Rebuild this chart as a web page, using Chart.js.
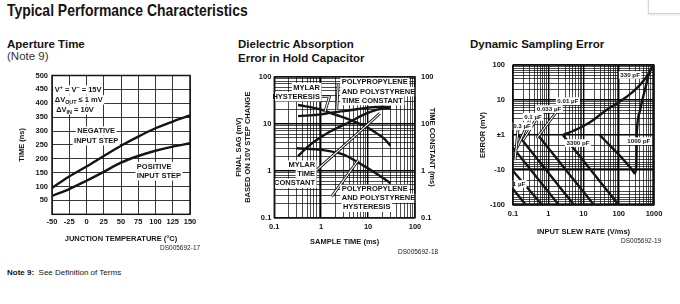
<!DOCTYPE html>
<html>
<head>
<meta charset="utf-8">
<script src="https://cdn.jsdelivr.net/npm/chart.js@4.4.1/dist/chart.umd.min.js"></script>
<style>
  body { margin: 0; width: 680px; height: 304px; position: relative; overflow: hidden; background: #fff;
         font-family: "Liberation Sans", Arial, Helvetica, sans-serif; color: #141414; }
  .txt { position: absolute; white-space: nowrap; line-height: 1.15; }
  .h2 { font-weight: bold; font-size: 11.5px; }
  .ds { font-size: 6.5px; color: #222; }
  canvas { position: absolute; }
</style>
</head>
<body>
<div class="txt" style="left:7px;top:1px;font-weight:bold;font-size:17px;transform:scaleX(0.82);transform-origin:0 0">Typical Performance Characteristics</div>
<div style="position:absolute;left:648px;top:-3px;width:40px;height:15px;border:1px solid #d6d6d6;box-shadow:0 1px 2px rgba(0,0,0,.12)"></div>
<div class="txt h2" style="left:7px;top:38px">Aperture Time</div>
<div class="txt" style="left:7px;top:50px;font-size:11.5px;color:#333">(Note 9)</div>
<div class="txt h2" style="left:238px;top:38px">Dielectric Absorption</div>
<div class="txt h2" style="left:238px;top:52px">Error in Hold Capacitor</div>
<div class="txt h2" style="left:470px;top:38px">Dynamic Sampling Error</div>
<canvas id="c1" width="232" height="200" style="left:0;top:60px"></canvas>
<canvas id="c2" width="218" height="200" style="left:232px;top:60px"></canvas>
<canvas id="c3" width="220" height="200" style="left:460px;top:50px"></canvas>
<div class="txt ds" style="left:160px;top:244px">DS005692-17</div>
<div class="txt ds" style="left:398px;top:248px">DS005692-18</div>
<div class="txt ds" style="left:621px;top:237px">DS005692-19</div>
<div class="txt" style="left:7px;top:268px;font-size:8px"><b>Note 9:</b>&nbsp; See Definition of Terms</div>
<script>
const FONT = '"Liberation Sans", Arial, Helvetica, sans-serif';
const INK = '#141414';

// Aperture time vs junction temperature
const junctionTemp = [-50, -25, 0, 25, 50, 75, 100, 125, 150];
const negStepNs = [95, 136, 172, 210, 247, 280, 310, 334, 356];
const posStepNs = [66, 91, 121, 153, 186, 210, 229, 244, 256];
const tempTicks = [-50, -25, 0, 25, 50, 75, 100, 125, 150];
const timeTicks = [0, 50, 100, 150, 200, 250, 300, 350, 400, 450, 500];

// Dielectric absorption: [sample time ms, value]
const mylarHyst = [[0.32, 25], [1, 20], [1.54, 17], [2.5, 14.5], [5, 11.2], [9.3, 8.6], [15, 6.3], [22, 4.8], [30, 3.4]];
const ppHyst = [[0.3, 3.0], [1.1, 2.75], [3, 2.2], [5.7, 1.56], [13, 0.95], [20, 0.72], [30, 0.54]];
const mylarTc = [[0.32, 2.05], [0.57, 3.5], [1.55, 6.8], [4.1, 11], [9.3, 16.6], [18, 20.6], [30, 21.3]];
const ppTc = [[0.32, 14.5], [1, 15.8], [1.54, 17], [3, 18.5], [6, 20.5], [10, 22], [20, 23], [30, 22.5]];
const decadeTicks2 = [0.1, 1, 10, 100];
const decadeLabels2 = ['0.1', '1', '10', '100'];

// Dynamic sampling error: [slew V/ms, error mV]
const err1uF = [[0.1, -35], [0.234, -100]];
const err03uF = [[0.1, -10.7], [0.67, -100]];
const err01uF = [[0.1, -2.3], [2.0, -100]];
const err0033uF = [[0.14, -1], [5.4, -100]];
const err001uF = [[0.51, -1], [19.9, -100]];
const err3300pF = [[2.6, -1], [100, -100]];
const err1000pF = [[29, -1], [250, -10.5], [280, -12.5], [305, -10], [318, -5], [325, -1], [330, 1.5], [400, 5], [550, 19], [770, 70], [1000, 90]];
const err330pF = [[2.6, 1], [5, 1.3], [10, 1.8], [19, 2.7], [40, 4.8], [80, 7.5], [168, 12.4], [300, 20], [620, 46], [860, 80], [1000, 100]];
const slewTicks = [0.1, 1, 10, 100, 1000];
const slewLabels = ['0.1', '1', '10', '100', '1000'];
const errTicks = [100, 10, 1, -10, -100];
const errLabels = ['100', '10', '\u00b11', '-10', '-100'];

// annotations
const notes1 = [
  { parts: [['V', ''], ['+', 'sup'], [' = V', ''], ['\u2212', 'sup'], [' = 15V', '']], x: -46, y: 448, align: 'left' },
  { parts: [['\u0394V', ''], ['OUT', 'sub'], [' \u2264 1 mV', '']], x: -46, y: 412, align: 'left' },
  { parts: [['\u0394V', ''], ['IN', 'sub'], [' = 10V', '']], x: -44, y: 376, align: 'left' },
  { parts: [['NEGATIVE', '']], x: 14, y: 300 },
  { parts: [['INPUT STEP', '']], x: 14, y: 265 },
  { parts: [['POSITIVE', '']], x: 73, y: 172, align: 'left' },
  { parts: [['INPUT STEP', '']], x: 73, y: 138, align: 'left' }
];
const notes2 = [
  { parts: [['MYLAR', '']], x: 0.94, y: 59, align: 'right' },
  { parts: [['HYSTERESIS', '']], x: 0.94, y: 37.5, align: 'right' },
  { parts: [['POLYPROPYLENE', '']], x: 2.74, y: 76, align: 'left' },
  { parts: [['AND POLYSTYRENE', '']], x: 2.74, y: 48, align: 'left' },
  { parts: [['TIME CONSTANT', '']], x: 2.74, y: 31, align: 'left' },
  { parts: [['MYLAR', '']], x: 0.74, y: 1.32, align: 'right' },
  { parts: [['TIME', '']], x: 0.74, y: 0.85, align: 'right' },
  { parts: [['CONSTANT', '']], x: 0.74, y: 0.54, align: 'right' },
  { parts: [['POLYPROPYLENE', '']], x: 2.74, y: 0.40, align: 'left' },
  { parts: [['AND POLYSTYRENE', '']], x: 2.74, y: 0.26, align: 'left' },
  { parts: [['HYSTERESIS', '']], x: 2.9, y: 0.166, align: 'left' }
];
const leaders2 = [
  [[0.8, 1.03], [17.9, 16.6]],
  [[1.67, 0.28], [6.2, 1.69]],
  [[0.97, 37.5], [1.5, 37.5], [1.2, 18]],
  [[2.3, 70], [2.15, 20]]
];
const notes3 = [
  { parts: [['330 pF', '']], x: 210, y: 52 },
  { parts: [['3300 pF', '']], x: 7, y: -1.7 },
  { parts: [['1000 pF', '']], x: 370, y: -1.5 },
  { parts: [['0.01 \u00b5F', '']], x: 3.6, y: 9.3 },
  { parts: [['0.033 \u00b5F', '']], x: 1.05, y: 5.5 },
  { parts: [['0.1 \u00b5F', '']], x: 0.37, y: 3.3 },
  { parts: [['0.3 \u00b5F', '']], x: 0.18, y: 1.8 },
  { parts: [['1 \u00b5F', '']], x: 0.148, y: -25 }
];
const leaders3 = [
  [[2.41, 7.2], [0.47, -1.24]],
  [[0.58, 4.2], [0.196, -1.39]],
  [[0.30, 2.7], [0.127, -2.4]],
  [[0.14, 1.56], [0.114, -5.2]]
];

const errPos = v => Math.sign(v) * Math.log10(Math.abs(v));
const same = v => v;
const isDecade = v => Math.abs(Math.log10(Math.abs(v)) - Math.round(Math.log10(Math.abs(v)))) < 1e-6;

function logTicks(min, max) {
  const out = [];
  for (let e = Math.round(Math.log10(min)); e < Math.round(Math.log10(max)); e++) {
    for (let k = 1; k < 10; k++) out.push(+(k * Math.pow(10, e)).toPrecision(6));
  }
  out.push(max);
  return out;
}
function symTicks() {
  const out = [];
  for (let n = 0; n < 2; n++) for (let k = 1; k < 10; k++) {
    const p = n + Math.log10(k);
    out.push(p); if (p) out.push(-p);
  }
  out.push(2, -2);
  return out.sort((a, b) => a - b);
}

function drawNote(ctx, n, px, py, fs) {
  const font = m => `bold ${m ? fs * 0.72 : fs}px ${FONT}`;
  let w = 0;
  n.parts.forEach(([s, m]) => { ctx.font = font(m); w += ctx.measureText(s).width; });
  let x0 = n.align === 'left' ? px : n.align === 'right' ? px - w : px - w / 2;
  ctx.fillStyle = '#fff';
  ctx.fillRect(x0 - 1.5, py - fs * 0.62, w + 3, fs * 1.24);
  ctx.fillStyle = INK;
  ctx.textBaseline = 'middle';
  ctx.textAlign = 'left';
  n.parts.forEach(([s, m]) => {
    ctx.font = font(m);
    const dy = m === 'sub' ? fs * 0.32 : m === 'sup' ? -fs * 0.3 : 0;
    ctx.fillText(s, x0, py + dy);
    x0 += ctx.measureText(s).width;
  });
}

function framePlugin(notes, leaders, toY, fs) {
  return {
    id: 'frame',
    afterDatasetsDraw(chart) {
      const { ctx, chartArea: a, scales: { x, y } } = chart;
      ctx.save();
      leaders.forEach(pts => {
        ctx.beginPath();
        pts.forEach(([vx, vy], i) => {
          const px = x.getPixelForValue(vx), py = y.getPixelForValue(toY(vy));
          i ? ctx.lineTo(px, py) : ctx.moveTo(px, py);
        });
        ctx.lineJoin = 'round';
        ctx.strokeStyle = INK; ctx.lineWidth = 2.8; ctx.stroke();
        ctx.strokeStyle = '#fff'; ctx.lineWidth = 1.1; ctx.stroke();
      });
      notes.forEach(n => drawNote(ctx, n, x.getPixelForValue(n.x), y.getPixelForValue(toY(n.y)), fs));
      ctx.lineWidth = 1.5;
      ctx.strokeStyle = INK;
      ctx.strokeRect(a.left, a.top, a.width, a.height);
      ctx.restore();
    }
  };
}

const tickFont = { family: FONT, size: 7.5, weight: 'bold' };
const titleFont = { family: FONT, size: 7.5, weight: 'bold', lineHeight: 1.25 };

function line(pairs, toY, axis) {
  return {
    data: pairs.map(([x, y]) => ({ x: x, y: toY(y) })),
    yAxisID: axis || 'y',
    borderColor: INK, borderWidth: 2.4, pointRadius: 0, fill: false,
    cubicInterpolationMode: 'monotone'
  };
}
const base = {
  responsive: false, animation: false, devicePixelRatio: 1,
  plugins: { legend: { display: false }, tooltip: { enabled: false } }
};
const logGrid = { color: '#000', drawTicks: false, lineWidth: c => (c.tick && isDecade(c.tick.value)) ? 1.4 : 0.7 };

// chart 1
new Chart(document.getElementById('c1'), {
  type: 'line',
  data: {
    datasets: [
      line(junctionTemp.map((t, i) => [t, negStepNs[i]]), same),
      line(junctionTemp.map((t, i) => [t, posStepNs[i]]), same)
    ]
  },
  options: Object.assign({}, base, {
    layout: { autoPadding: false, padding: { left: 0, right: 42, top: 15.5, bottom: 0 } },
    scales: {
      x: {
        type: 'linear', min: -50, max: 150,
        afterBuildTicks: s => { s.ticks = tempTicks.map(v => ({ value: v })); },
        afterFit: s => { s.height = 45.7; },
        ticks: { autoSkip: false, maxRotation: 0, padding: 3, font: tickFont, color: INK },
        grid: { color: '#202020', lineWidth: 0.9, drawTicks: false },
        border: { display: false },
        title: { display: true, text: 'JUNCTION TEMPERATURE (\u00b0C)', font: titleFont, color: INK, padding: { top: 0, bottom: 16 } }
      },
      y: {
        type: 'linear', min: 0, max: 500,
        afterBuildTicks: s => { s.ticks = timeTicks.map(v => ({ value: v })); },
        afterFit: s => { s.width = 52; },
        ticks: { autoSkip: false, padding: 4, font: tickFont, color: INK, callback: v => v === 0 ? '' : String(v) },
        grid: { color: '#202020', lineWidth: 0.9, drawTicks: false },
        border: { display: false },
        title: { display: true, text: 'TIME (ns)', font: titleFont, color: INK, padding: { top: 17.5, bottom: 0 } }
      }
    }
  }),
  plugins: [framePlugin(notes1, [], same, 7.5)]
});

// chart 2
const decadeLabel = (ticks, labels) => v => { const i = ticks.findIndex(t => Math.abs(t - v) < 1e-9); return i < 0 ? '' : labels[i]; };
new Chart(document.getElementById('c2'), {
  type: 'line',
  data: {
    datasets: [
      line(mylarHyst, same),
      line(ppHyst, same),
      line(mylarTc, same, 'y2'),
      line(ppTc, same, 'y2')
    ]
  },
  options: Object.assign({}, base, {
    layout: { autoPadding: false, padding: { left: 0, right: 0, top: 16.7, bottom: 0 } },
    scales: {
      x: {
        type: 'logarithmic', min: 0.1, max: 100,
        afterBuildTicks: s => { s.ticks = logTicks(0.1, 100).map(v => ({ value: v })); },
        afterFit: s => { s.height = 42.3; },
        ticks: { autoSkip: false, maxRotation: 0, padding: 5, font: tickFont, color: INK, callback: decadeLabel(decadeTicks2, decadeLabels2) },
        grid: logGrid,
        border: { display: false },
        title: { display: true, text: 'SAMPLE TIME (ms)', font: titleFont, color: INK, padding: { top: 0, bottom: 13.5 } }
      },
      y: {
        type: 'logarithmic', min: 0.1, max: 100, position: 'left',
        afterBuildTicks: s => { s.ticks = logTicks(0.1, 100).map(v => ({ value: v })); },
        afterFit: s => { s.width = 42.3; },
        ticks: { autoSkip: false, padding: 3, font: tickFont, color: INK, callback: decadeLabel(decadeTicks2, decadeLabels2) },
        grid: logGrid,
        border: { display: false },
        title: { display: true, text: ['FINAL SAG (mV)', 'BASED ON 10V STEP CHANGE'], font: titleFont, color: INK, padding: { top: 1.8, bottom: 0 } }
      },
      y2: {
        type: 'logarithmic', min: 0.1, max: 100, position: 'right',
        afterBuildTicks: s => { s.ticks = decadeTicks2.map(v => ({ value: v })); },
        afterFit: s => { s.width = 35; },
        ticks: { autoSkip: false, padding: 6, font: tickFont, color: INK, callback: decadeLabel(decadeTicks2, decadeLabels2) },
        grid: { display: false, drawTicks: false },
        border: { display: false },
        title: { display: true, text: 'TIME CONSTANT (ms)', font: titleFont, color: INK, padding: { top: 13.5, bottom: 0 } }
      }
    }
  }),
  plugins: [framePlugin(notes2, leaders2, same, 7.5)]
});

// chart 3
new Chart(document.getElementById('c3'), {
  type: 'line',
  data: {
    datasets: [err1uF, err03uF, err01uF, err0033uF, err001uF, err3300pF, err1000pF, err330pF].map(p => line(p, errPos))
  },
  options: Object.assign({}, base, {
    layout: { autoPadding: false, padding: { left: 0, right: 26, top: 15, bottom: 0 } },
    scales: {
      x: {
        type: 'logarithmic', min: 0.1, max: 1000,
        afterBuildTicks: s => { s.ticks = logTicks(0.1, 1000).map(v => ({ value: v })); },
        afterFit: s => { s.height = 45; },
        ticks: { autoSkip: false, maxRotation: 0, padding: 4, font: tickFont, color: INK, callback: decadeLabel(slewTicks, slewLabels) },
        grid: logGrid,
        border: { display: false },
        title: { display: true, text: 'INPUT SLEW RATE (V/ms)', font: titleFont, color: INK, padding: { top: 0, bottom: 13.5 } }
      },
      y: {
        type: 'linear', min: -2, max: 2,
        afterBuildTicks: s => { s.ticks = symTicks().map(v => ({ value: v })); },
        afterFit: s => { s.width = 53; },
        ticks: {
          autoSkip: false, padding: 8, font: tickFont, color: INK,
          callback: v => { const i = errTicks.findIndex(t => Math.abs(errPos(t) - v) < 1e-9); return i < 0 ? '' : errLabels[i]; }
        },
        grid: { color: '#000', drawTicks: false, lineWidth: c => (c.tick && Math.abs(c.tick.value - Math.round(c.tick.value)) < 1e-9) ? 1.4 : 0.7 },
        border: { display: false },
        title: { display: true, text: 'ERROR (mV)', font: titleFont, color: INK, padding: { top: 18.5, bottom: 0 } }
      }
    }
  }),
  plugins: [framePlugin(notes3, leaders3, errPos, 6.2)]
});
</script>
</body>
</html>
